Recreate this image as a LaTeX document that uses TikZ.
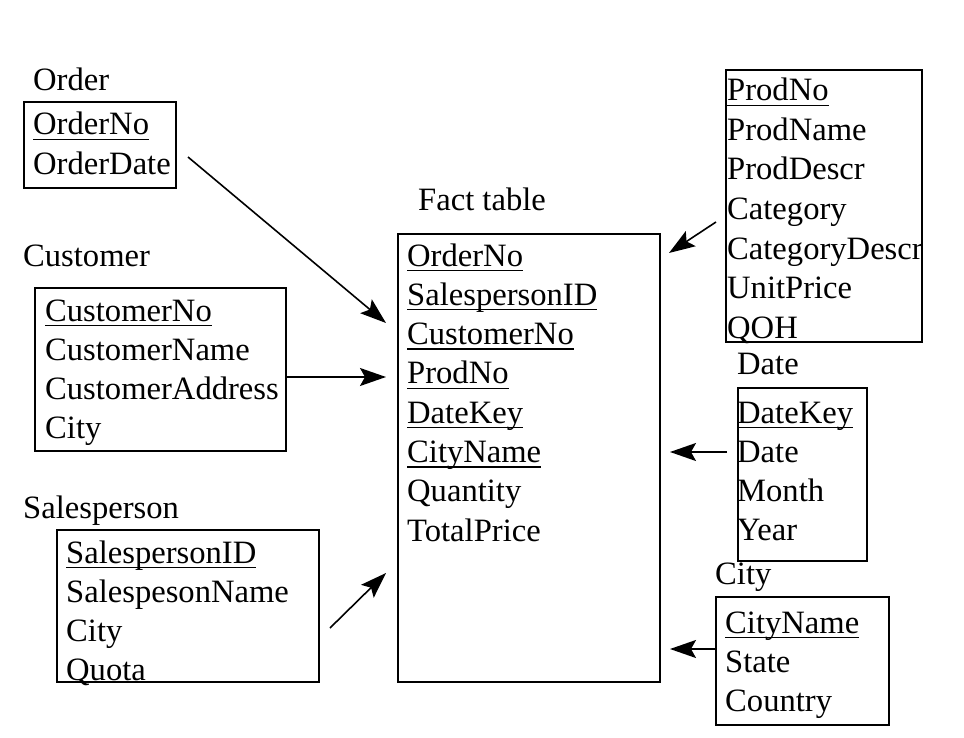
\documentclass[tikz,border=0pt]{standalone}
\usepackage{fontspec}
\setmainfont{Liberation Serif}
\usetikzlibrary{arrows.meta,positioning}
\newsavebox\keybox
\newcommand{\keyfld}[1]{\sbox\keybox{#1}\rlap{\rule[-5pt]{\wd\keybox}{1.2pt}}\usebox\keybox}

\begin{document}
\begin{tikzpicture}[x=1pt,y=-1pt,font=\fontsize{32.6}{40}\selectfont,
  tbl/.style={draw,line width=1.7pt,anchor=north west,inner sep=0pt},
  fld/.style={anchor=base west,inner sep=0pt},
  ttl/.style={anchor=base west,inner sep=0pt},
  link/.style={line width=1.6pt,-{Stealth[length=26pt,width=18pt,inset=5pt]}}]
\useasboundingbox (0,0) rectangle (964,738);
% tables
\node[tbl,minimum width=152pt,minimum height=86pt] (order) at (23,101) {};
\node[tbl,minimum width=251pt,minimum height=163pt] (customer) at (34,287) {};
\node[tbl,minimum width=262pt,minimum height=152pt] (salesperson) at (56,529) {};
\node[tbl,minimum width=262pt,minimum height=448pt] (fact) at (397,233) {};
\node[tbl,minimum width=196pt,minimum height=272pt] (product) at (725,69) {};
\node[tbl,minimum width=129pt,minimum height=173pt] (date) at (737,387) {};
\node[tbl,minimum width=173pt,minimum height=128pt] (city) at (715,596) {};
% titles
\node[ttl] (order-t) at (33,91) {Order};
\node[ttl] (customer-t) at (23,266) {Customer};
\node[ttl] (salesperson-t) at (23,518) {Salesperson};
\node[ttl] (fact-t) at (418,211) {Fact table};
\node[ttl] (date-t) at (737,374) {Date};
\node[ttl] (city-t) at (715,584) {City};
% fields
\foreach \f [count=\i from 0] in {\keyfld{OrderNo},OrderDate}
  \node[fld] (order-\i) at (33,135+40*\i) {\f};
\foreach \f [count=\i from 0] in {\keyfld{CustomerNo},CustomerName,CustomerAddress,City}
  \node[fld] (customer-\i) at (45,321+39.3*\i) {\f};
\foreach \f [count=\i from 0] in {\keyfld{SalespersonID},SalespesonName,City,Quota}
  \node[fld] (salesperson-\i) at (66,563+39.3*\i) {\f};
\foreach \f [count=\i from 0] in {\keyfld{OrderNo},\keyfld{SalespersonID},\keyfld{CustomerNo},\keyfld{ProdNo},\keyfld{DateKey},\keyfld{CityName},Quantity,TotalPrice}
  \node[fld] (fact-\i) at (407,266+39.3*\i) {\f};
\foreach \f [count=\i from 0] in {\keyfld{ProdNo},ProdName,ProdDescr,Category,CategoryDescr,UnitPrice,QOH}
  \node[fld] (product-\i) at (727,101+39.5*\i) {\f};
\foreach \f [count=\i from 0] in {\keyfld{DateKey},Date,Month,Year}
  \node[fld] (date-\i) at (737,423+39.3*\i) {\f};
\foreach \f [count=\i from 0] in {\keyfld{CityName},State,Country}
  \node[fld] (city-\i) at (725,633+39.3*\i) {\f};
% links into the fact table
\coordinate (order-tail) at (188,157);
\coordinate (order-tip) at (386,323);
\coordinate (customer-tip) at (386,377);
\coordinate (salesperson-tail) at (330,628);
\coordinate (salesperson-tip) at (386,573);
\coordinate (product-tail) at (716,222);
\coordinate (product-tip) at (669,253);
\coordinate (date-tail) at (727,452);
\coordinate (date-tip) at (670,452);
\coordinate (city-tip) at (670,649);
\draw[link] (order-tail) -- (order-tip);
\draw[link] (customer.east |- customer-tip) -- (customer-tip);
\draw[link] (salesperson-tail) -- (salesperson-tip);
\draw[link] (product-tail) -- (product-tip);
\draw[link] (date-tail) -- (date-tip);
\draw[link] (city.west |- city-tip) -- (city-tip);
\end{tikzpicture}
\end{document}
